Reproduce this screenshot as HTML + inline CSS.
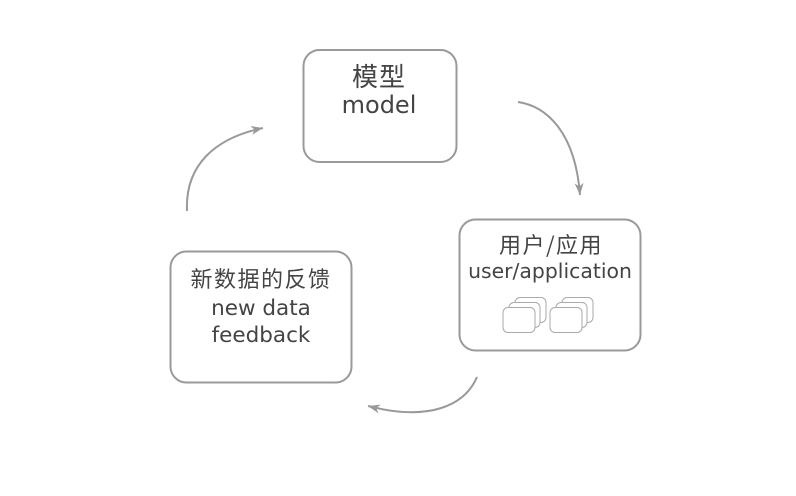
<!DOCTYPE html>
<html>
<head>
<meta charset="utf-8">
<style>
  html,body{margin:0;padding:0;background:#fff;}
  svg{display:block;}
  text{font-family:"DejaVu Sans","Liberation Sans","Noto Sans CJK SC",sans-serif;fill:#444;}
  .cjk{font-family:"Noto Sans CJK SC","WenQuanYi Zen Hei",sans-serif;}
</style>
</head>
<body>
<svg width="796" height="496" viewBox="0 0 796 496" xmlns="http://www.w3.org/2000/svg">
  <defs>
    <marker id="ah" markerWidth="16" markerHeight="12" refX="13" refY="6" orient="auto" markerUnits="userSpaceOnUse">
      <path d="M13,6 L1,1.5 L4.5,6 L1,10.5 Z" fill="#999"/>
    </marker>
  </defs>

  <!-- boxes -->
  <rect x="303.5" y="50" width="153" height="112" rx="16" ry="16" fill="#fff" stroke="#999" stroke-width="2"/>
  <rect x="459.5" y="219.5" width="181" height="131" rx="16" ry="16" fill="#fff" stroke="#999" stroke-width="2"/>
  <rect x="170.5" y="251.5" width="181" height="131" rx="16" ry="16" fill="#fff" stroke="#999" stroke-width="2"/>

  <!-- model text -->
  <text class="cjk" x="379" y="86" font-size="26" text-anchor="middle" letter-spacing="1">模型</text>
  <text x="379" y="113" font-size="24" text-anchor="middle">model</text>

  <!-- user text -->
  <text class="cjk" x="551" y="253" font-size="22" text-anchor="middle" letter-spacing="1.5">用户/应用</text>
  <text x="550" y="278" font-size="20.4" text-anchor="middle">user/application</text>

  <!-- stacks -->
  <g fill="#fff" stroke="#aaa" stroke-width="1">
    <rect x="515" y="297.5" width="31" height="25" rx="5"/>
    <rect x="509" y="302.5" width="31" height="25" rx="5"/>
    <rect x="503" y="307.5" width="32" height="25" rx="5"/>
    <rect x="562" y="297.5" width="31" height="25" rx="5"/>
    <rect x="556" y="302.5" width="31" height="25" rx="5"/>
    <rect x="550" y="307.5" width="32" height="25" rx="5"/>
  </g>

  <!-- feedback text -->
  <text class="cjk" x="261" y="287" font-size="22" text-anchor="middle" letter-spacing="1.5">新数据的反馈</text>
  <text x="261" y="315" font-size="21.5" text-anchor="middle">new data</text>
  <text x="261" y="342" font-size="21.5" text-anchor="middle">feedback</text>

  <!-- arrows -->
  <g fill="none" stroke="#999" stroke-width="2">
    <path d="M518,102 C545,106 575,130 580,195" marker-end="url(#ah)"/>
    <path d="M477,377 C465,405 430,422 368,406" marker-end="url(#ah)"/>
    <path d="M187,211 C185,165 215,138 263,128" marker-end="url(#ah)"/>
  </g>
</svg>
</body>
</html>
